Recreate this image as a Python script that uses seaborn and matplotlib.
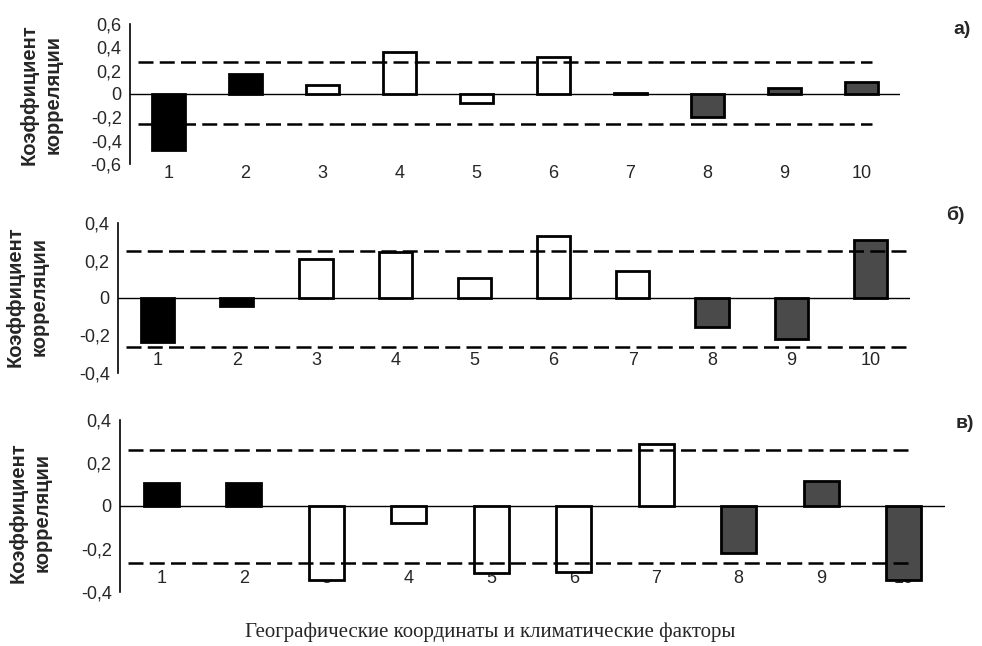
import matplotlib
matplotlib.use('Agg')
import matplotlib.pyplot as plt
import seaborn as sns
import pandas as pd

sns.set_style('white')
plt.rcParams['font.family'] = ['Liberation Sans', 'DejaVu Sans']

categories = [str(i) for i in range(1, 11)]

# correlation coefficients
values_a = [-0.48, 0.17, 0.08, 0.36, -0.08, 0.32, 0.01, -0.20, 0.05, 0.10]
values_b = [-0.235, -0.04, 0.21, 0.245, 0.105, 0.33, 0.145, -0.155, -0.22, 0.31]
values_v = [0.107, 0.105, -0.345, -0.08, -0.31, -0.305, 0.29, -0.22, 0.115, -0.345]

# significance thresholds (dashed lines)
crit_a = [0.27, -0.26]
crit_b = [0.25, -0.26]
crit_v = [0.26, -0.265]

yticks_a = [-0.6, -0.4, -0.2, 0, 0.2, 0.4, 0.6]
yticks_bv = [-0.4, -0.2, 0, 0.2, 0.4]

panel_labels = ['а)', 'б)', 'в)']
ylabel = 'Коэффициент\nкорреляции'
xlabel = 'Географические координаты и климатические факторы'

# bar fill groups: 1-2 black, 3-7 white, 8-10 dark grey
bar_colors = ['black', 'black', 'white', 'white', 'white', 'white', 'white',
              '#4a4a4a', '#4a4a4a', '#4a4a4a']

fig = plt.figure(figsize=(9.82, 6.46), dpi=100)

# [left, bottom, width, height] in figure fractions
rects = [
    [130 / 982, 1 - 164 / 646, 770 / 982, 140 / 646],
    [118 / 982, 1 - 373 / 646, 792 / 982, 150 / 646],
    [120 / 982, 1 - 592 / 646, 825 / 982, 172 / 646],
]
all_values = [values_a, values_b, values_v]
all_crit = [crit_a, crit_b, crit_v]
all_yticks = [yticks_a, yticks_bv, yticks_bv]
ylims = [(-0.6, 0.6), (-0.4, 0.4), (-0.4, 0.4)]
label_pos = [(962, 29), (955, 215), (965, 423)]
ylabel_pos = [(41, 95), (27, 297), (30, 513)]
xtick_pad = [1, -15, -16]
dash_ends = [9.14, 9.5, 9.05]

for i in range(3):
    ax = fig.add_axes(rects[i])
    df = pd.DataFrame({'factor': categories, 'r': all_values[i]})
    sns.barplot(data=df, x='factor', y='r', hue='factor',
                palette=dict(zip(categories, bar_colors)), legend=False,
                width=0.42, edgecolor='black', linewidth=2, ax=ax)
    ax.axhline(0, color='black', linewidth=1, zorder=0)
    for c in all_crit[i]:
        ax.hlines(c, -0.4, dash_ends[i], colors='black', linestyles=(0, (6, 2.5)),
                  linewidth=1.8, zorder=3)
    ax.set_xlim(-0.5, 9.5)
    ax.set_ylim(*ylims[i])
    ax.set_yticks(all_yticks[i])
    ax.set_yticklabels([('%g' % t).replace('.', ',') for t in all_yticks[i]],
                       fontsize=13)
    ax.set_xlabel('')
    ax.set_ylabel('')
    for s in ['top', 'right', 'bottom']:
        ax.spines[s].set_visible(False)
    ax.spines['left'].set_color('black')
    ax.spines['left'].set_linewidth(1.2)
    ax.tick_params(axis='y', direction='inout', length=8, width=1.2, color='black',
                   labelsize=13, pad=2)
    ax.tick_params(axis='x', length=0, labelsize=13, pad=xtick_pad[i])
    ax.patch.set_alpha(0)
    fig.text(label_pos[i][0] / 982, 1 - label_pos[i][1] / 646, panel_labels[i],
             fontsize=14, fontweight='bold', ha='center', va='center')
    fig.text(ylabel_pos[i][0] / 982, 1 - ylabel_pos[i][1] / 646, ylabel,
             fontsize=14.5, fontweight='bold', rotation=90, ha='center', va='center',
             multialignment='center', linespacing=1.3)

fig.text(490 / 982, 1 - 632 / 646, xlabel, fontsize=15, family='Liberation Serif',
         ha='center', va='center')

fig.savefig('out.png', dpi=100)
